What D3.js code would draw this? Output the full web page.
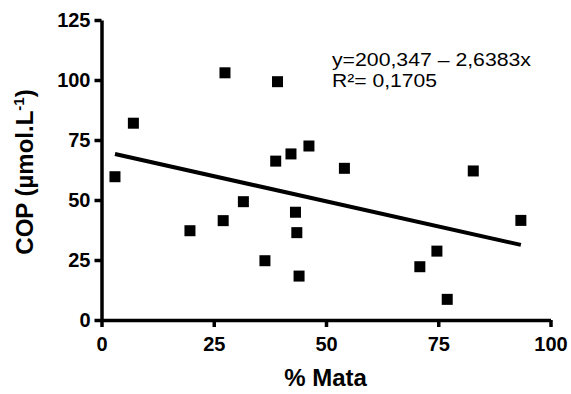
<!DOCTYPE html>
<html>
<head>
<meta charset="utf-8">
<script src="https://cdn.jsdelivr.net/npm/d3@7"></script>
<style>
  body { margin: 0; background: #fff; }
  text { font-family: "Liberation Sans", Arial, sans-serif; fill: #000; }
</style>
</head>
<body>
<div class="chart"></div>
<script>
// % Mata (x) and COP in µmol/L (y)
const mata = [3.0, 7.1, 19.7, 27.5, 27.1, 31.6, 36.4, 38.8, 39.2, 42.2, 43.2, 43.5, 44.0, 46.2, 54.1, 70.9, 74.7, 77.0, 82.8, 93.4]
const cop = [59.7, 82.0, 37.2, 103.0, 41.4, 49.3, 24.7, 66.2, 99.3, 69.2, 44.9, 36.4, 18.3, 72.5, 63.2, 22.2, 28.7, 8.6, 62.1, 41.5]
const xTicks = [0, 25, 50, 75, 100]
const yTicks = [0, 25, 50, 75, 100, 125]
const equation = ['y=200,347 – 2,6383x', 'R²= 0,1705']

const width = 571
const height = 394

const xScale = d3.scaleLinear().domain([0, 100]).range([101.5, 550.5])
const yScale = d3.scaleLinear().domain([0, 125]).range([320, 20])

const svg = d3.select('.chart')
  .append('svg')
  .attr('width', width)
  .attr('height', height)

const xAxis = d3.axisBottom(xScale)
  .tickValues(xTicks)
  .tickSizeInner(7)
  .tickSizeOuter(0)
  .tickPadding(10)
const yAxis = d3.axisLeft(yScale)
  .tickValues(yTicks)
  .tickSizeInner(7)
  .tickSizeOuter(0)
  .tickPadding(4)

const styleAxis = (g) => {
  g.select('.domain').attr('stroke', '#000').attr('stroke-width', 3.5)
  g.selectAll('.tick line').attr('stroke', '#000').attr('stroke-width', 3.5)
  g.selectAll('.tick text')
    .attr('fill', '#000')
    .style('font-family', '"Liberation Sans", Arial, sans-serif')
    .style('font-size', '20px')
    .style('font-weight', 'bold')
}

svg.append('g')
  .attr('transform', `translate(0, ${yScale(0)})`)
  .call(xAxis)
  .call(styleAxis)

svg.append('g')
  .attr('transform', `translate(${xScale(0)}, 0)`)
  .call(yAxis)
  .call(styleAxis)

// least squares fit through the points
const points = mata.map((x, i) => ({ x, y: cop[i] }))
const mx = d3.mean(mata)
const my = d3.mean(cop)
const slope = d3.sum(points, d => (d.x - mx) * (d.y - my)) / d3.sum(points, d => (d.x - mx) ** 2)
const intercept = my - slope * mx
const [x0, x1] = d3.extent(mata)

svg.append('line')
  .attr('x1', xScale(x0))
  .attr('y1', yScale(intercept + slope * x0))
  .attr('x2', xScale(x1))
  .attr('y2', yScale(intercept + slope * x1))
  .attr('stroke', '#000')
  .attr('stroke-width', 4)

const size = 11
svg.selectAll('.dot')
  .data(points)
  .enter()
  .append('rect')
  .attr('class', 'dot')
  .attr('x', d => xScale(d.x) - size / 2)
  .attr('y', d => yScale(d.y) - size / 2)
  .attr('width', size)
  .attr('height', size)
  .attr('fill', '#000')

svg.append('text')
  .attr('x', 325.5)
  .attr('y', 386)
  .attr('text-anchor', 'middle')
  .style('font-size', '24px')
  .style('font-weight', 'bold')
  .text('% Mata')

const yLabel = svg.append('text')
  .attr('transform', 'translate(33, 172) rotate(-90)')
  .attr('text-anchor', 'middle')
  .style('font-size', '24px')
  .style('font-weight', 'bold')
yLabel.append('tspan').text('COP (µmol.L')
yLabel.append('tspan').attr('dy', -9).style('font-size', '15px').text('-1')
yLabel.append('tspan').attr('dy', 9).text(')')

svg.selectAll('.eq')
  .data(equation)
  .enter()
  .append('text')
  .attr('class', 'eq')
  .attr('x', 332)
  .attr('y', (d, i) => 66 + i * 21)
  .attr('textLength', (d, i) => i === 0 ? 199 : 105)
  .attr('lengthAdjust', 'spacingAndGlyphs')
  .style('font-size', '18.5px')
  .text(d => d)
</script>
</body>
</html>
